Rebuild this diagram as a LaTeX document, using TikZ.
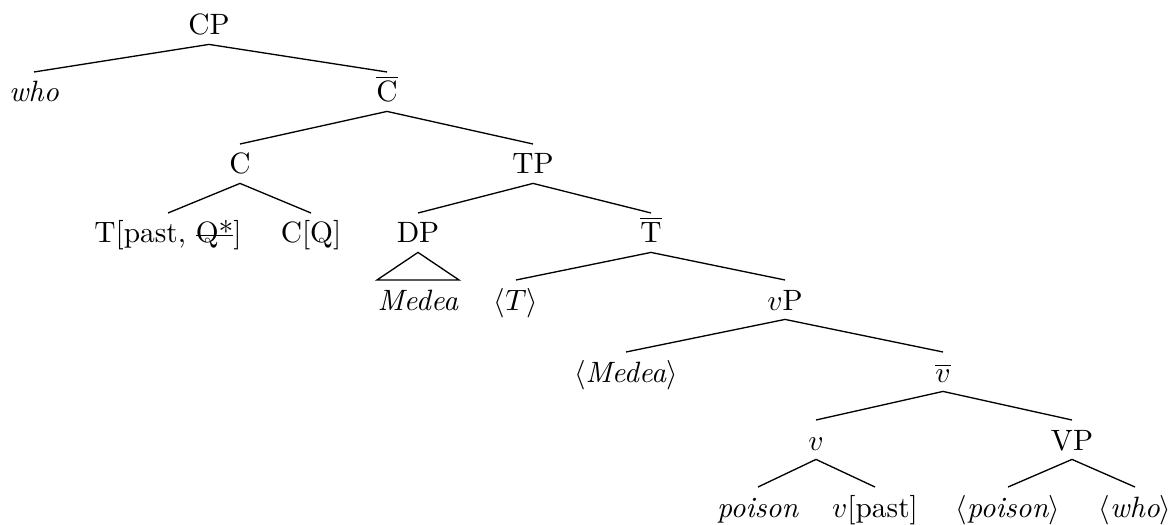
\documentclass[tikz,border=0pt]{standalone}
\newcommand{\mystrike}[1]{\leavevmode\setbox0\hbox{#1}\rlap{\rule[0.55ex]{\wd0}{0.4pt}}\box0}
\begin{document}
\begin{tikzpicture}[x=0.34pt,y=-0.34pt,
  lab/.style={anchor=base, inner xsep=1pt, inner ysep=3pt, text height=7pt, text depth=0pt},
  branch/.style={line width=0.45pt}]
\useasboundingbox (0,0) rectangle (1176,525);
% row 0
\node[lab] (cp) at (209,35) {CP};
% row 1
\node[lab] (who) at (34,102) {\textit{who}};
\node[lab] (cbar) at (387,102) {$\overline{\mathrm{C}}$};
% row 2
\node[lab] (c) at (240,174) {C};
\node[lab] (tp) at (533,174) {TP};
% row 3
\node[lab] (tpast) at (168,243) {T[past, \mystrike{Q*}]};
\node[lab] (cq) at (311,243) {C[Q]};
\node[lab] (dp) at (418,243) {DP};
\node[lab] (tbar) at (651,243) {$\overline{\mathrm{T}}$};
% row 4
\node[lab, inner xsep=0pt] (medea) at (418,310) {\textit{Medea}};
\node[lab] (tt) at (516,310) {$\langle T\rangle$};
\node[lab] (vp) at (785,310) {$v$P};
% row 5
\node[lab] (tmedea) at (626,382) {$\langle$\textit{Medea}$\rangle$};
\node[lab] (vbar) at (943,382) {$\overline{v}$};
% row 6
\node[lab] (v) at (816,450) {$v$};
\node[lab] (bigvp) at (1072,450) {VP};
% row 7
\node[lab] (poison) at (758,517) {\textit{poison}};
\node[lab] (vpast) at (875,517) {$v$[past]};
\node[lab] (tpoison) at (1008,517) {$\langle$\textit{poison}$\rangle$};
\node[lab] (twho) at (1135,517) {$\langle$\textit{who}$\rangle$};
% branches
\draw[branch] (who.north) -- (cp.south) -- (cbar.north);
\draw[branch] (c.north) -- (cbar.south) -- (tp.north);
\draw[branch] (tpast.north) -- (c.south) -- (cq.north);
\draw[branch] (dp.north) -- (tp.south) -- (tbar.north);
\draw[branch] (dp.south) -- (medea.north west) -- (medea.north east) -- cycle;
\draw[branch] (tt.north) -- (tbar.south) -- (vp.north);
\draw[branch] (tmedea.north) -- (vp.south) -- (vbar.north);
\draw[branch] (v.north) -- (vbar.south) -- (bigvp.north);
\draw[branch] (poison.north) -- (v.south) -- (vpast.north);
\draw[branch] (tpoison.north) -- (bigvp.south) -- (twho.north);
\end{tikzpicture}
\end{document}
